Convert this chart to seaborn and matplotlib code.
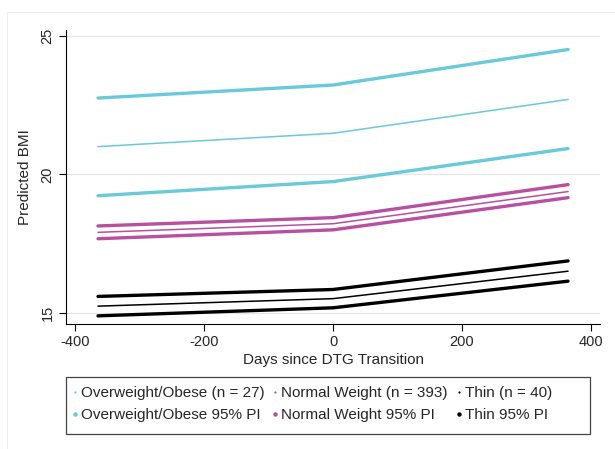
import matplotlib.pyplot as plt
from matplotlib.lines import Line2D
from matplotlib.patches import Rectangle
import pandas as pd
import seaborn as sns

days = [-365, 0, 365]

# predicted BMI and 95% prediction intervals
ow_fit = [21.00, 21.48, 22.70]
ow_lo = [19.23, 19.74, 20.93]
ow_hi = [22.75, 23.22, 24.50]
nw_fit = [17.91, 18.22, 19.38]
nw_lo = [17.68, 18.00, 19.16]
nw_hi = [18.14, 18.44, 19.63]
th_fit = [15.25, 15.52, 16.51]
th_lo = [14.90, 15.19, 16.15]
th_hi = [15.60, 15.85, 16.88]

labels_fit = ["Overweight/Obese (n = 27)", "Normal Weight (n = 393)", "Thin (n = 40)"]
labels_pi = ["Overweight/Obese 95% PI", "Normal Weight 95% PI", "Thin 95% PI"]
colors = ["#6ACADB", "#B8509F", "#000000"]

sns.set_theme(style="white")
plt.rcParams["font.family"] = ["Liberation Sans", "DejaVu Sans"]
plt.rcParams["axes.unicode_minus"] = False

fig = plt.figure(figsize=(6.15, 4.49), dpi=100)
ax = fig.add_axes([0.107, 0.278, 0.869, 0.655])

groups = [(ow_fit, ow_lo, ow_hi), (nw_fit, nw_lo, nw_hi), (th_fit, th_lo, th_hi)]
for (fit, lo, hi), c in zip(groups, colors):
    df = pd.DataFrame({"day": days, "fit": fit, "lo": lo, "hi": hi})
    sns.lineplot(data=df, x="day", y="lo", color=c, lw=2.4, ax=ax)
    sns.lineplot(data=df, x="day", y="hi", color=c, lw=2.4, ax=ax)
    sns.lineplot(data=df, x="day", y="fit", color=c, lw=1.1, ax=ax)

ax.set_xlim(-415, 415)
ax.set_ylim(14.6, 25.2)
ax.set_xticks([-400, -200, 0, 200, 400])
ax.set_yticks([15, 20, 25])
ax.yaxis.grid(True, color="#e6e6e6", lw=0.9)
ax.set_axisbelow(True)
for s in ["top", "right"]:
    ax.spines[s].set_visible(False)
for s in ["left", "bottom"]:
    ax.spines[s].set_color("black")
    ax.spines[s].set_linewidth(0.8)
ax.tick_params(axis="both", direction="out", length=5, width=0.8, color="black",
               labelsize=10.5, left=True, bottom=True, pad=3)
plt.setp(ax.get_yticklabels(), rotation=90, va="center")
ax.set_xlabel("Days since DTG Transition", fontsize=11, labelpad=3)
ax.set_ylabel("Predicted BMI", fontsize=11, labelpad=6)

handles = []
names = []
for i in range(3):
    handles.append(Line2D([], [], ls="none", marker="o", ms=1.6, color=colors[i], mec="none"))
    names.append(labels_fit[i])
    handles.append(Line2D([], [], ls="none", marker="o", ms=3.2, color=colors[i], mec="none"))
    names.append(labels_pi[i])
leg = fig.legend(handles, names, ncol=3, loc="center left", bbox_to_anchor=(70.7 / 615, 0.0998),
                 fontsize=11, frameon=False, handlelength=0.5, handletextpad=0.15,
                 columnspacing=0.47, borderpad=0, borderaxespad=0, labelspacing=0.5)

# legend box and faint outer graph region border
fig.patches.append(Rectangle((65.5 / 615, 1 - 434 / 449), (590 - 65.5) / 615, 57 / 449,
                             transform=fig.transFigure, fill=False, ec="#444444", lw=0.9))
fig.patches.append(Rectangle((0.011, -0.1), 1.2, 1.073, transform=fig.transFigure,
                             fill=False, ec="#eeeeee", lw=0.8))

fig.savefig("out.png", dpi=100)
